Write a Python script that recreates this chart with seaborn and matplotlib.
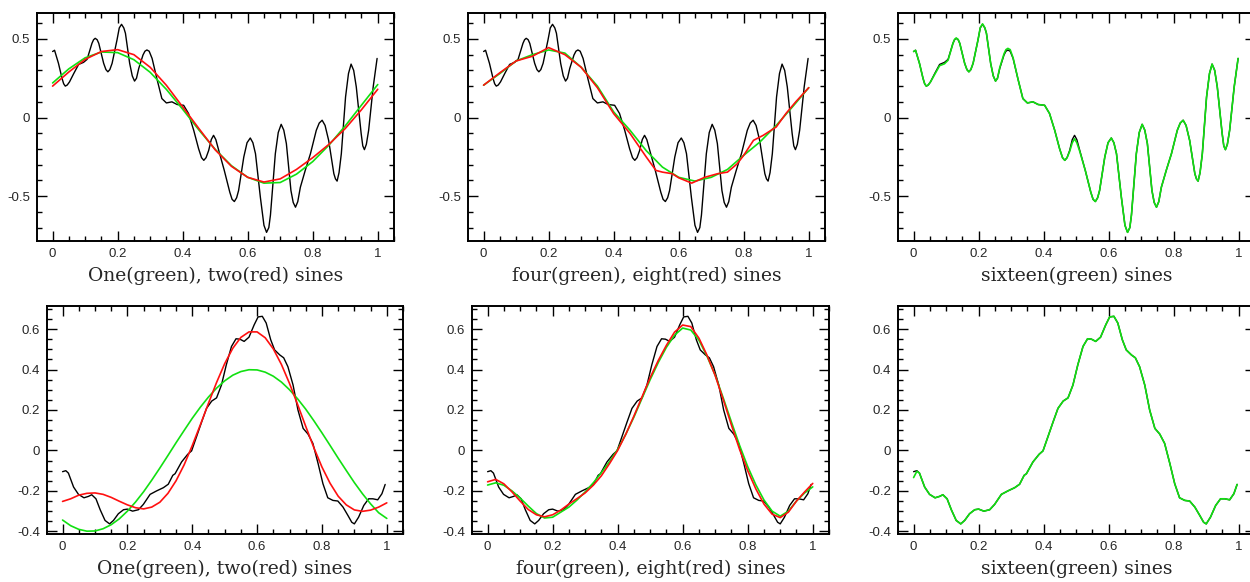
import matplotlib
matplotlib.use("Agg")
import matplotlib.pyplot as plt
import seaborn as sns
from matplotlib.ticker import MultipleLocator, FuncFormatter

# sample positions of the fitted curves
grid_05 = [0.0, 0.05, 0.1, 0.15, 0.2, 0.25, 0.3, 0.35, 0.4, 0.45, 0.5,
           0.55, 0.6, 0.65, 0.7, 0.75, 0.8, 0.85, 0.9, 0.95, 1.0]
grid_025 = [0.0, 0.025, 0.05, 0.075, 0.1, 0.125, 0.15, 0.175, 0.2, 0.225,
            0.25, 0.275, 0.3, 0.325, 0.35, 0.375, 0.4, 0.425, 0.45, 0.475,
            0.5, 0.525, 0.55, 0.575, 0.6, 0.625, 0.65, 0.675, 0.7, 0.725,
            0.75, 0.775, 0.8, 0.825, 0.85, 0.875, 0.9, 0.925, 0.95, 0.975, 1.0]

# top row: signal (black) and its fits
top_x = [0.0, 0.006, 0.018, 0.029, 0.034, 0.039, 0.045, 0.052, 0.065, 0.08,
         0.095, 0.106, 0.121, 0.126, 0.131, 0.137, 0.142, 0.157, 0.164, 0.17,
         0.176, 0.183, 0.198, 0.205, 0.212, 0.219, 0.224, 0.237, 0.245, 0.252,
         0.258, 0.265, 0.278, 0.284, 0.29, 0.297, 0.306, 0.321, 0.336, 0.35,
         0.367, 0.383, 0.403, 0.418, 0.434, 0.449, 0.458, 0.465, 0.472, 0.48,
         0.488, 0.495, 0.502, 0.511, 0.528, 0.545, 0.552, 0.559, 0.566, 0.572,
         0.588, 0.598, 0.608, 0.616, 0.624, 0.639, 0.65, 0.658, 0.665, 0.67,
         0.685, 0.694, 0.703, 0.711, 0.719, 0.733, 0.74, 0.747, 0.754, 0.762,
         0.777, 0.793, 0.811, 0.82, 0.829, 0.838, 0.849, 0.865, 0.87, 0.875,
         0.881, 0.888, 0.901, 0.91, 0.918, 0.926, 0.934, 0.949, 0.954, 0.959,
         0.965, 0.972, 0.986, 0.998]
top_signal = [0.42, 0.428, 0.345, 0.249, 0.215, 0.2, 0.207, 0.227, 0.28, 0.338,
              0.351, 0.37, 0.472, 0.495, 0.504, 0.495, 0.472, 0.345, 0.305, 0.291,
              0.305, 0.345, 0.493, 0.57, 0.593, 0.57, 0.536, 0.345, 0.265, 0.232,
              0.25, 0.313, 0.398, 0.422, 0.43, 0.422, 0.376, 0.245, 0.121, 0.093,
              0.1, 0.083, 0.078, 0.026, -0.081, -0.198, -0.255, -0.272, -0.255, -0.209,
              -0.14, -0.113, -0.14, -0.209, -0.336, -0.475, -0.52, -0.534, -0.51, -0.464,
              -0.251, -0.16, -0.13, -0.16, -0.23, -0.507, -0.685, -0.73, -0.7, -0.62,
              -0.23, -0.095, -0.043, -0.08, -0.166, -0.464, -0.54, -0.57, -0.535, -0.443,
              -0.336, -0.23, -0.081, -0.035, -0.017, -0.05, -0.145, -0.357, -0.39, -0.404,
              -0.35, -0.23, 0.131, 0.28, 0.34, 0.3, 0.195, -0.102, -0.18, -0.204,
              -0.17, -0.081, 0.195, 0.376]
top_sine16 = [0.42, 0.428, 0.345, 0.249, 0.215, 0.2, 0.207, 0.227, 0.275, 0.33,
              0.342, 0.365, 0.472, 0.497, 0.506, 0.497, 0.472, 0.345, 0.305, 0.291,
              0.305, 0.345, 0.493, 0.572, 0.596, 0.572, 0.536, 0.345, 0.265, 0.232,
              0.25, 0.318, 0.405, 0.432, 0.44, 0.432, 0.38, 0.245, 0.121, 0.093,
              0.1, 0.083, 0.078, 0.026, -0.081, -0.198, -0.255, -0.272, -0.255, -0.215,
              -0.16, -0.135, -0.16, -0.215, -0.336, -0.475, -0.52, -0.534, -0.51, -0.464,
              -0.251, -0.16, -0.13, -0.16, -0.23, -0.507, -0.685, -0.73, -0.7, -0.62,
              -0.23, -0.095, -0.043, -0.08, -0.166, -0.464, -0.54, -0.57, -0.535, -0.443,
              -0.336, -0.23, -0.081, -0.035, -0.017, -0.05, -0.145, -0.357, -0.39, -0.404,
              -0.35, -0.23, 0.131, 0.28, 0.34, 0.3, 0.195, -0.102, -0.18, -0.204,
              -0.17, -0.081, 0.195, 0.376]
top_sine1 = [0.22, 0.31, 0.38, 0.417, 0.413, 0.368, 0.288, 0.179, 0.053, -0.079,
             -0.202, -0.306, -0.38, -0.417, -0.413, -0.36, -0.28, -0.175, -0.053,
             0.079, 0.21]
top_sine2 = [0.2, 0.29, 0.37, 0.42, 0.432, 0.4, 0.32, 0.205, 0.068, -0.07,
             -0.205, -0.31, -0.38, -0.41, -0.39, -0.33, -0.255, -0.17, -0.07,
             0.05, 0.18]
top_sine4 = [0.206, 0.28, 0.36, 0.4, 0.43, 0.41, 0.32, 0.2, 0.036, -0.08,
             -0.21, -0.315, -0.38, -0.404, -0.38, -0.33, -0.24, -0.155, -0.05,
             0.068, 0.19]
top_x8 = [0.0, 0.05, 0.1, 0.15, 0.2, 0.25, 0.3, 0.35, 0.4, 0.45, 0.5, 0.53,
          0.55, 0.58, 0.6, 0.64, 0.68, 0.72, 0.75, 0.78, 0.8, 0.83, 0.86, 0.9,
          0.93, 0.96, 1.0]
top_sine8 = [0.206, 0.285, 0.36, 0.39, 0.445, 0.4, 0.32, 0.19, 0.025, -0.1,
             -0.25, -0.336, -0.347, -0.357, -0.383, -0.417, -0.38, -0.357, -0.347,
             -0.294, -0.24, -0.145, -0.113, -0.06, 0.026, 0.1, 0.19]

# bottom row: signal (black) and its fits
bot_x = [0.0, 0.01, 0.018, 0.034, 0.049, 0.066, 0.08, 0.09, 0.103, 0.116,
         0.131, 0.145, 0.157, 0.172, 0.188, 0.2, 0.216, 0.234, 0.249, 0.27,
         0.29, 0.311, 0.326, 0.34, 0.347, 0.367, 0.386, 0.398, 0.413, 0.429,
         0.444, 0.46, 0.475, 0.49, 0.505, 0.521, 0.535, 0.547, 0.56, 0.575,
         0.591, 0.603, 0.616, 0.628, 0.642, 0.654, 0.67, 0.682, 0.695, 0.711,
         0.726, 0.742, 0.757, 0.772, 0.788, 0.803, 0.818, 0.834, 0.849, 0.865,
         0.88, 0.892, 0.9, 0.913, 0.929, 0.944, 0.957, 0.972, 0.985, 0.995]
bot_signal = [-0.105, -0.1, -0.112, -0.181, -0.217, -0.234, -0.227, -0.219, -0.239, -0.293,
              -0.346, -0.363, -0.346, -0.313, -0.293, -0.29, -0.3, -0.293, -0.267, -0.217,
              -0.2, -0.184, -0.167, -0.123, -0.115, -0.057, -0.019, -0.002, 0.067, 0.141,
              0.208, 0.244, 0.26, 0.323, 0.423, 0.514, 0.552, 0.55, 0.539, 0.56,
              0.621, 0.66, 0.663, 0.63, 0.547, 0.497, 0.472, 0.458, 0.414, 0.323,
              0.2, 0.109, 0.081, 0.035, -0.064, -0.164, -0.234, -0.247, -0.25, -0.28,
              -0.321, -0.355, -0.363, -0.33, -0.272, -0.239, -0.239, -0.244, -0.214, -0.168]
bot_sine16 = [-0.134, -0.103, -0.112, -0.181, -0.217, -0.234, -0.227, -0.219, -0.239, -0.293,
              -0.346, -0.363, -0.346, -0.313, -0.293, -0.29, -0.3, -0.293, -0.267, -0.217,
              -0.2, -0.184, -0.167, -0.123, -0.115, -0.057, -0.019, -0.002, 0.067, 0.141,
              0.208, 0.244, 0.26, 0.323, 0.423, 0.514, 0.552, 0.55, 0.539, 0.56,
              0.621, 0.66, 0.663, 0.63, 0.547, 0.497, 0.472, 0.458, 0.414, 0.323,
              0.2, 0.109, 0.081, 0.035, -0.064, -0.164, -0.234, -0.247, -0.25, -0.28,
              -0.321, -0.355, -0.363, -0.33, -0.272, -0.239, -0.239, -0.244, -0.214, -0.168]
bot_sine1 = [-0.344, -0.372, -0.39, -0.399, -0.398, -0.387, -0.367, -0.338, -0.3, -0.255,
             -0.204, -0.147, -0.087, -0.025, 0.038, 0.099, 0.159, 0.214, 0.264, 0.308,
             0.344, 0.372, 0.39, 0.399, 0.398, 0.387, 0.367, 0.338, 0.3, 0.255,
             0.204, 0.147, 0.087, 0.025, -0.038, -0.099, -0.159, -0.214, -0.264, -0.308,
             -0.336]
bot_sine2 = [-0.252, -0.239, -0.221, -0.212, -0.21, -0.217, -0.232, -0.251, -0.269, -0.283,
             -0.289, -0.28, -0.256, -0.212, -0.15, -0.071, 0.024, 0.127, 0.233, 0.336,
             0.429, 0.505, 0.559, 0.586, 0.586, 0.557, 0.502, 0.425, 0.331, 0.227,
             0.119, 0.014, -0.082, -0.162, -0.226, -0.269, -0.294, -0.301, -0.295, -0.28,
             -0.259]
bot_sine4 = [-0.171, -0.16, -0.172, -0.2, -0.235, -0.275, -0.312, -0.334, -0.33, -0.305,
             -0.28, -0.245, -0.205, -0.16, -0.11, -0.055, 0.005, 0.08, 0.165, 0.258,
             0.35, 0.435, 0.51, 0.57, 0.605, 0.595, 0.545, 0.465, 0.372, 0.258,
             0.14, 0.025, -0.08, -0.17, -0.245, -0.3, -0.325, -0.3, -0.25, -0.21,
             -0.18]
bot_sine8 = [-0.155, -0.143, -0.165, -0.205, -0.25, -0.292, -0.318, -0.328, -0.318, -0.295,
             -0.265, -0.238, -0.21, -0.172, -0.125, -0.065, 0.0, 0.08, 0.17, 0.265,
             0.36, 0.445, 0.52, 0.585, 0.62, 0.612, 0.555, 0.47, 0.37, 0.25,
             0.125, 0.005, -0.1, -0.19, -0.265, -0.315, -0.332, -0.305, -0.25, -0.205,
             -0.163]

labels = ["One(green), two(red) sines", "four(green), eight(red) sines",
          "sixteen(green) sines"]

GREEN = "#11e011"
RED = "#ff1010"

sns.set_style("ticks")
plt.rcParams["axes.unicode_minus"] = False

fig = plt.figure(figsize=(12.5, 5.82), dpi=100)
W, H = 1250.0, 582.0


def make_axes(left, top, right, bottom):
    return fig.add_axes([left / W, 1 - bottom / H, (right - left) / W, (bottom - top) / H])


def style(ax, ylim, ymaj, ymin, label):
    ax.set_xlim(-0.048, 1.05)
    ax.set_ylim(*ylim)
    ax.xaxis.set_major_locator(MultipleLocator(0.2))
    ax.xaxis.set_minor_locator(MultipleLocator(0.05))
    ax.yaxis.set_major_locator(MultipleLocator(ymaj))
    ax.yaxis.set_minor_locator(MultipleLocator(ymin))
    fmt = FuncFormatter(lambda v, p: "%g" % round(v, 3))
    ax.xaxis.set_major_formatter(fmt)
    ax.yaxis.set_major_formatter(fmt)
    ax.tick_params(which="both", direction="in", top=True, right=True,
                   width=1.0, color="black")
    ax.tick_params(which="major", length=7, pad=5)
    ax.tick_params(which="minor", length=3.5)
    for t in ax.get_xticklabels() + ax.get_yticklabels():
        t.set_fontfamily("Liberation Sans")
        t.set_fontsize(9.5)
    for s in ax.spines.values():
        s.set_linewidth(1.4)
        s.set_color("black")
    ax.set_xlabel(label, fontfamily="DejaVu Serif", fontsize=13.5, labelpad=5)
    ax.set_ylabel("")


def draw(ax, x, y, color, lw):
    sns.lineplot(x=x, y=y, ax=ax, color=color, linewidth=lw,
                 estimator=None, sort=False, legend=False)


top_ylim = (-0.785, 0.665)
bot_ylim = (-0.413, 0.714)

# top row
ax = make_axes(37, 13, 394, 241)
draw(ax, top_x, top_signal, "black", 1.0)
draw(ax, grid_05, top_sine1, GREEN, 1.2)
draw(ax, grid_05, top_sine2, RED, 1.2)
style(ax, top_ylim, 0.5, 0.1, labels[0])

ax = make_axes(468, 13, 825, 241)
draw(ax, top_x, top_signal, "black", 1.0)
draw(ax, grid_05, top_sine4, GREEN, 1.2)
draw(ax, top_x8, top_sine8, RED, 1.2)
style(ax, top_ylim, 0.5, 0.1, labels[1])

ax = make_axes(898, 13, 1255, 241)
draw(ax, top_x, top_signal, "black", 1.0)
draw(ax, top_x, top_sine16, GREEN, 1.2)
style(ax, top_ylim, 0.5, 0.1, labels[2])

# bottom row
ax = make_axes(47, 306, 403, 534)
draw(ax, bot_x, bot_signal, "black", 1.0)
draw(ax, grid_025, bot_sine1, GREEN, 1.2)
draw(ax, grid_025, bot_sine2, RED, 1.2)
style(ax, bot_ylim, 0.2, 0.05, labels[0])

ax = make_axes(472, 306, 829, 534)
draw(ax, bot_x, bot_signal, "black", 1.0)
draw(ax, grid_025, bot_sine4, GREEN, 1.2)
draw(ax, grid_025, bot_sine8, RED, 1.2)
style(ax, bot_ylim, 0.2, 0.05, labels[1])

ax = make_axes(898, 306, 1255, 534)
draw(ax, bot_x, bot_signal, "black", 1.0)
draw(ax, bot_x, bot_sine16, GREEN, 1.2)
style(ax, bot_ylim, 0.2, 0.05, labels[2])

fig.savefig("out.png", dpi=100)
